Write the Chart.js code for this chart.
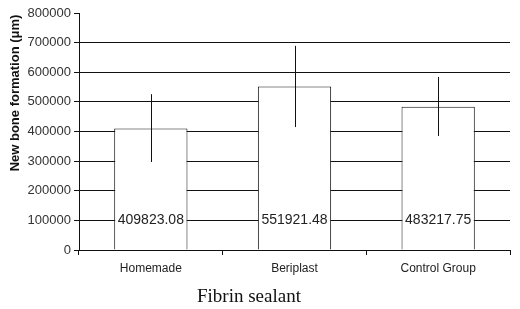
<!DOCTYPE html>
<html>
<head>
<meta charset="utf-8">
<script src="https://cdn.jsdelivr.net/npm/chart.js@4.4.0/dist/chart.umd.min.js"></script>
<style>
  html, body { margin: 0; padding: 0; background: #fff; }
  #wrap { width: 520px; height: 309px; position: relative; }
</style>
</head>
<body>
<div id="wrap"><canvas id="barChart"></canvas></div>
<script>
const categories = ["Homemade", "Beriplast", "Control Group"];
const means = [409823.08, 551921.48, 483217.75];
const errorLow = [297000, 415000, 385000];
const errorHigh = [526000, 689000, 584000];
const yTicks = [0, 100000, 200000, 300000, 400000, 500000, 600000, 700000, 800000];
const labelLevel = 100000;

const INK = "#111";

// error bars + value labels inside the bars
const barExtras = {
  id: "barExtras",
  afterDatasetsDraw(chart) {
    const { ctx } = chart;
    const y = chart.scales.y;
    const meta = chart.getDatasetMeta(0);
    ctx.save();
    ctx.strokeStyle = INK;
    ctx.lineWidth = 1;
    meta.data.forEach((bar, i) => {
      const x = Math.round(bar.x) + 0.5;
      ctx.beginPath();
      ctx.moveTo(x, y.getPixelForValue(errorHigh[i]));
      ctx.lineTo(x, y.getPixelForValue(errorLow[i]));
      ctx.stroke();
    });
    ctx.fillStyle = "#222";
    ctx.font = "14px 'Liberation Sans', Arial, sans-serif";
    ctx.textAlign = "center";
    ctx.textBaseline = "middle";
    meta.data.forEach((bar, i) => {
      ctx.fillText(means[i].toFixed(2), bar.x, y.getPixelForValue(labelLevel));
    });
    ctx.restore();
  },
  afterDraw(chart) {
    const { ctx } = chart;
    ctx.save();
    ctx.fillStyle = INK;
    ctx.textAlign = "center";
    ctx.textBaseline = "middle";
    ctx.font = "19px 'Liberation Serif', 'Times New Roman', serif";
    ctx.fillText("Fibrin sealant", 249, 297);
    ctx.translate(15, 93);
    ctx.rotate(-Math.PI / 2);
    ctx.font = "bold 13px 'Liberation Sans', Arial, sans-serif";
    ctx.fillText("New bone formation (\u03bcm)", 0, 0);
    ctx.restore();
  },
};

new Chart(document.getElementById("barChart"), {
  type: "bar",
  data: {
    labels: categories,
    datasets: [{
      data: means,
      backgroundColor: "#fff",
      borderColor: INK,
      borderWidth: 1,
      borderSkipped: "bottom",
      categoryPercentage: 1,
      barPercentage: 0.51,
    }],
  },
  options: {
    responsive: true,
    maintainAspectRatio: false,
    animation: false,
    layout: { padding: { top: 13, right: 10, left: 0, bottom: 0 } },
    plugins: {
      legend: { display: false },
      tooltip: { enabled: false },
    },
    scales: {
      x: {
        border: { color: INK, width: 1 },
        grid: {
          offset: true,
          drawOnChartArea: false,
          drawTicks: true,
          tickLength: 5,
          color: INK,
        },
        ticks: {
          color: "#222",
          padding: 6,
          font: { family: "'Liberation Sans', Arial, sans-serif", size: 12 },
        },
        afterFit(scale) { scale.height = 59; },
      },
      y: {
        min: 0,
        max: 800000,
        afterBuildTicks(scale) {
          scale.ticks = yTicks.map((v) => ({ value: v }));
        },
        border: { color: INK, width: 1 },
        grid: {
          color: (c) => (c.tick && c.tick.value === 800000 ? "rgba(0,0,0,0)" : INK),
          tickColor: INK,
          tickLength: 5,
        },
        ticks: {
          color: "#333",
          padding: 3,
          font: { family: "'Liberation Sans', Arial, sans-serif", size: 13 },
          callback: (v) => String(v),
        },
        afterFit(scale) { scale.width = 79; },
      },
    },
  },
  plugins: [barExtras],
});
</script>
</body>
</html>
